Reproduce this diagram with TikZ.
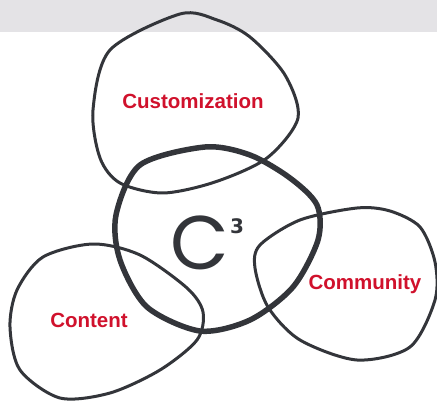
\documentclass[tikz,border=0pt]{standalone}
\usepackage{fontspec}
\setmainfont{Liberation Sans}
\newfontfamily\cfont{Poppins}
\newfontfamily\pfont{DejaVu Sans}

\begin{document}
\begin{tikzpicture}[x=1pt, y=-1pt,
    % outlines of the blobs
    loop/.style={line width=3pt, color=outline, line join=round},
    core/.style={line width=5.5pt, color=outline, line join=round},
    tag/.style={font=\fontsize{20.5}{22}\selectfont\bfseries, text=label, inner sep=0pt},
]
    % Colors
    \definecolor{outline}{RGB}{51,53,58}
    \definecolor{label}{RGB}{208,17,44}
    \definecolor{band}{RGB}{228,227,230}

    % Frame
    \useasboundingbox (0,0) rectangle (437,401);
    \fill[band] (0,0) rectangle (437,32);

    % Customization
    \draw[loop] plot[smooth cycle] coordinates {(180,14) (217,20) (250,37) (285,75) (298,118)
        (267,158) (215,182) (163,193) (120,183) (100,158) (93,110) (110,50)};
    \node[tag] (custom) at (193,101) {Customization};

    % Community
    \draw[loop] plot[smooth cycle] coordinates {(357,208) (390,211) (420,227) (435,262) (435,300)
        (410,347) (357,360) (300,340) (268,307) (255,268) (260,245) (300,220)};
    \node[tag] (community) at (365,284) {Community};

    % Content
    \draw[loop] plot[smooth cycle] coordinates {(93,244) (140,255) (187,288) (203,312) (197,340)
        (160,370) (110,393) (60,398) (20,370) (10,327) (17,290) (43,257)};
    \node[tag] (content) at (89,320) {Content};

    % centre
    \draw[core] plot[smooth cycle] coordinates {(205,147) (250,155) (290,178) (317,205) (318,240)
        (293,287) (250,320) (200,331) (147,307) (120,260) (116,215) (140,165)};
    \node[font=\cfont\fontsize{76}{76}\selectfont, text=outline, inner sep=0pt] (core) at (200,243) {C};
    \node[font=\pfont\fontsize{20}{20}\selectfont\bfseries, text=outline, inner sep=0pt,
        anchor=west] (power) at ([xshift=0.5pt, yshift=-10pt]core.north east) {3};
\end{tikzpicture}
\end{document}
